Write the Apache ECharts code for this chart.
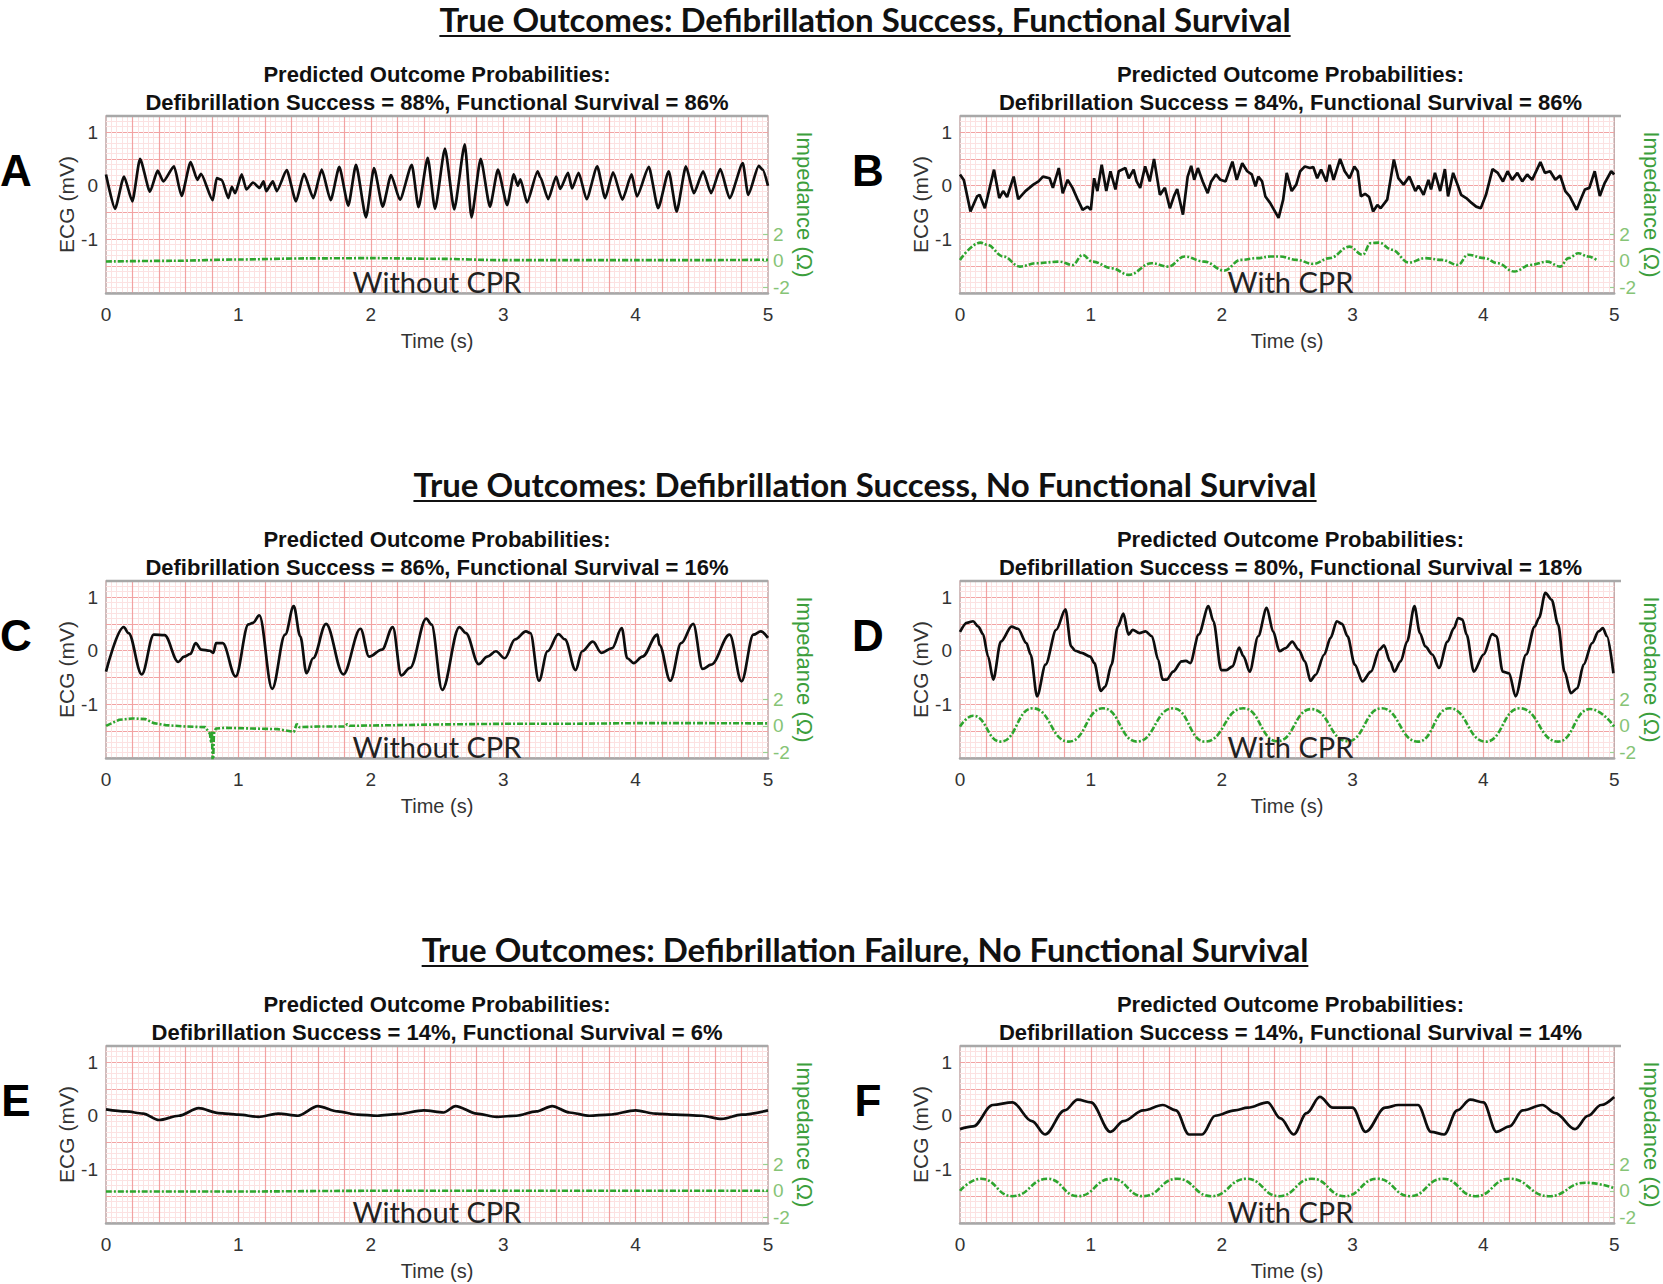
<!DOCTYPE html>
<html><head><meta charset="utf-8">
<script src="https://cdn.jsdelivr.net/npm/echarts@6/dist/echarts.min.js"></script>
<style>html,body{margin:0;padding:0;background:#fff}#c{width:1663px;height:1284px}</style>
</head><body><div id="c"></div>
<script>
// ---------------- DATA ----------------
const rowTitles = [
  'True Outcomes: Defibrillation Success, Functional Survival',
  'True Outcomes: Defibrillation Success, No Functional Survival',
  'True Outcomes: Defibrillation Failure, No Functional Survival'
];
const panelLetters = ['A', 'B', 'C', 'D', 'E', 'F'];
const predDefib = [88, 84, 86, 80, 14, 14];
const predSurv = [86, 86, 16, 18, 6, 14];
const cprLabels = ['Without CPR', 'With CPR', 'Without CPR', 'With CPR', 'Without CPR', 'With CPR'];
const timeTicks = [0, 1, 2, 3, 4, 5];
const ecgTicks = [-1, 0, 1];
const impTicks = [-2, 0, 2];

// Panel A – ECG (s, mV)
const ecgA_t = [0,.068,.136,.199,.257,.332,.39,.433,.514,.571,.639,.69,.718,.806,.836,.874,.924,.95,.975,1.025,1.06,1.11,1.16,1.19,1.21,1.26,1.29,1.365,1.435,1.495,1.566,1.629,1.697,1.762,1.83,1.888,1.964,2.024,2.09,2.153,2.22,2.31,2.36,2.43,2.485,2.56,2.63,2.71,2.76,2.83,2.90,2.96,3.03,3.08,3.11,3.13,3.18,3.26,3.28,3.34,3.40,3.43,3.49,3.52,3.57,3.63,3.71,3.77,3.83,3.90,3.97,4.01,4.10,4.17,4.25,4.31,4.38,4.44,4.51,4.57,4.64,4.71,4.81,4.85,4.93,4.96,5.0];
const ecgA_v = [.21,-.43,.17,-.29,.50,-.11,.28,.08,.36,-.19,.44,.11,.22,-.27,.14,.11,-.23,-.02,-.14,.21,-.07,.06,-.04,.08,-.10,.08,-.10,.29,-.29,.22,-.23,.30,-.27,.35,-.37,.39,-.59,.33,-.39,.20,-.26,.39,-.40,.52,-.43,.69,-.44,.77,-.59,.50,-.39,.30,-.36,.21,.0,.12,-.31,.27,.16,-.25,.17,-.06,.24,-.05,.24,-.25,.36,-.23,.25,-.26,.21,-.20,.35,-.42,.27,-.48,.36,-.14,.27,-.14,.31,-.23,.42,-.17,.37,.30,.0];
// Panel A – impedance (s, Ohm)
const impA_t = [0, .5, 1, 1.5, 2, 2.5, 3, 3.5, 4, 4.5, 5];
const impA_v = [-.05, 0, .1, .18, .2, .15, .05, .05, .05, .05, .08];

// Panel B – ECG
const ecgB_t = [0,.03,.08,.13,.15,.19,.26,.30,.33,.36,.41,.445,.50,.56,.60,.634,.685,.71,.755,.785,.823,.86,.90,.937,.975,1.0,1.025,1.05,1.083,1.118,1.15,1.188,1.213,1.264,1.29,1.327,1.35,1.377,1.415,1.45,1.483,1.528,1.566,1.604,1.636,1.66,1.704,1.74,1.767,1.79,1.818,1.855,1.893,1.92,1.956,1.99,2.03,2.082,2.115,2.157,2.195,2.23,2.258,2.28,2.309,2.334,2.37,2.435,2.47,2.497,2.535,2.57,2.60,2.636,2.675,2.70,2.73,2.76,2.80,2.825,2.855,2.905,2.94,2.977,3.014,3.04,3.064,3.096,3.127,3.157,3.19,3.215,3.265,3.316,3.35,3.39,3.434,3.48,3.505,3.543,3.58,3.60,3.63,3.67,3.706,3.73,3.769,3.807,3.83,3.869,3.91,3.945,3.98,4.02,4.07,4.11,4.15,4.185,4.22,4.26,4.297,4.335,4.373,4.436,4.47,4.51,4.55,4.587,4.626,4.66,4.713,4.743,4.776,4.81,4.851,4.89,4.927,4.977,5.0];
const ecgB_v = [.21,.10,-.48,-.20,-.17,-.42,.30,-.23,-.10,-.21,.17,-.25,-.10,.02,.08,.17,.14,-.04,.33,-.14,.11,-.04,-.26,-.45,-.39,-.45,.14,-.10,.39,-.10,.27,-.07,.27,.33,.14,.30,.08,-.04,.36,.08,.50,-.17,-.04,-.42,-.19,-.06,-.54,.17,.37,.11,.33,.08,-.14,.08,.21,.11,.08,.45,.11,.42,.27,.21,-.01,.17,.08,-.20,-.32,-.60,-.26,.24,-.10,.02,.27,.36,.33,.35,.14,.30,.08,.39,.11,.50,.27,.14,.36,.27,-.20,-.15,-.21,-.48,-.36,-.42,-.26,.49,.14,.02,.17,-.10,.0,-.17,.11,-.07,.24,-.10,.31,-.20,.24,-.01,-.17,-.23,-.32,-.39,-.42,-.17,.31,.24,.08,.27,.11,.24,.08,.21,.11,.44,.24,.27,.11,.19,-.10,-.20,-.45,-.26,-.07,-.04,.27,-.19,.05,.27,.21];
const impB_t = [0,.156,.206,.332,.458,.584,.76,.861,.937,1.012,1.163,1.289,1.465,1.591,1.717,1.868,2.019,2.145,2.271,2.372,2.447,2.573,2.699,2.825,2.976,3.077,3.139,3.202,3.303,3.429,3.555,3.681,3.807,3.882,4.008,4.109,4.235,4.36,4.486,4.587,4.65,4.726,4.801,4.864];
const impB_v = [.07,1.36,1.2,.32,-.43,-.18,-.06,-.31,.44,-.06,-.56,-1.05,-.18,-.43,.32,-.06,-.73,.07,.2,.32,.32,.07,-.23,.2,1.06,.45,1.32,1.36,.82,-.13,.2,.07,-.31,.45,.2,-.18,-.8,-.31,-.06,-.43,.2,.57,.32,.07];

// Panel C – ECG
const ecgC_t = [0,.134,.17,.27,.361,.442,.546,.59,.637,.677,.72,.784,.81,.832,.881,.979,1.076,1.11,1.158,1.255,1.353,1.418,1.467,1.515,1.564,1.662,1.792,1.922,1.987,2.084,2.166,2.23,2.296,2.419,2.458,2.539,2.669,2.718,2.815,2.88,2.945,3.011,3.09,3.172,3.205,3.27,3.335,3.417,3.466,3.547,3.596,3.677,3.742,3.823,3.895,3.937,3.986,4.051,4.165,4.18,4.262,4.344,4.435,4.506,4.571,4.71,4.80,4.89,4.945,5.0];
const ecgC_v = [-.39,.44,.33,-.44,.30,.29,-.21,-.11,-.06,.14,.02,.0,-.04,.14,.14,-.48,.49,.52,.66,-.71,.30,.83,.27,-.42,-.14,.50,-.44,.41,-.11,.02,.44,-.46,-.32,.60,.49,-.73,.44,.33,-.25,-.11,-.01,-.14,.21,.36,.33,-.56,-.01,.31,.21,-.36,-.01,.17,-.04,.05,.42,-.14,-.23,-.11,.30,.11,-.56,.14,.50,-.34,-.26,.30,-.57,.30,.36,.24];
const impC_t = [0,.1,.2,.3,.36,.45,.6,.75,.785,.795,.80,.807,.815,.83,.9,1.1,1.3,1.42,1.44,1.46,1.6,1.8,1.82,1.84,2.2,2.5,3,3.5,4,4.5,5];
const impC_v = [0,.45,.55,.5,.2,.05,-.05,-.1,-.6,-1.3,-.4,-3.5,-.6,-.2,-.15,-.2,-.25,-.45,.15,-.1,-.05,-.05,.12,0,.05,.1,.15,.15,.2,.2,.18];

// Panel D – ECG
const ecgD_t = [0,.052,.10,.14,.176,.215,.254,.312,.394,.443,.508,.54,.589,.654,.735,.806,.849,.88,.93,.995,1.027,1.076,1.11,1.158,1.206,1.249,1.288,1.32,1.37,1.418,1.467,1.515,1.548,1.58,1.629,1.694,1.727,1.76,1.824,1.899,1.937,1.996,2.035,2.084,2.133,2.166,2.214,2.279,2.344,2.393,2.442,2.49,2.539,2.588,2.636,2.679,2.718,2.784,2.832,2.88,2.92,2.962,3.017,3.076,3.141,3.206,3.24,3.287,3.32,3.368,3.417,3.473,3.515,3.556,3.61,3.661,3.726,3.775,3.807,3.84,3.872,3.927,4.002,4.067,4.10,4.148,4.197,4.246,4.327,4.392,4.425,4.474,4.522,4.571,4.62,4.669,4.718,4.766,4.831,4.88,4.913,4.945,4.994];
const ecgD_v = [.35,.52,.55,.45,.31,-.11,-.54,.17,.45,.41,.14,-.07,-.85,-.26,.39,.77,.08,.0,-.04,-.11,-.23,-.75,-.67,-.26,.45,.69,.30,.39,.33,.36,.27,-.17,-.54,-.54,-.39,-.20,-.19,-.23,.30,.83,.55,-.36,-.36,-.29,.06,-.10,-.39,.27,.80,.36,-.01,.05,.17,.02,-.20,-.56,-.45,-.07,.24,.55,.50,.27,-.26,-.57,-.39,.02,.10,-.20,-.39,-.20,.17,.83,.33,.08,-.07,-.32,.17,.42,.61,.58,.30,-.39,-.07,.31,.27,-.39,-.42,-.85,-.07,.45,.61,1.08,.95,.49,-.39,-.79,-.70,-.26,.14,.36,.42,.27,-.42];
const impD_t = [0,.1,.312,.556,.832,1.093,1.353,1.629,1.873,2.166,2.426,2.685,2.962,3.222,3.5,3.742,4.018,4.279,4.571,4.815,5.0];
const impD_v = [-.06,.75,-1.18,1.31,-1.18,1.31,-1.18,1.31,-1.18,1.31,-1.15,1.25,-1.15,1.31,-1.18,1.31,-1.18,1.31,-1.18,1.25,-.06];

// Panel E – ECG
const ecgE_t = [0,.15,.28,.4,.55,.7,.85,1.0,1.15,1.3,1.45,1.6,1.75,1.9,2.05,2.2,2.4,2.55,2.64,2.8,2.95,3.1,3.25,3.37,3.5,3.65,3.8,4.0,4.15,4.3,4.5,4.65,4.8,5.0];
const ecgE_v = [.12,.08,.04,-.08,.0,.14,.05,.02,-.02,.04,.0,.18,.08,.02,.0,.03,.1,.06,.18,.04,-.02,.0,.08,.18,.06,.0,.02,.1,.04,.02,.0,-.06,.02,.1];
const impE_t = [0, 1, 2, 3, 4, 5];
const impE_v = [-.05, -.05, 0, 0, 0, 0];

// Panel F – ECG
const ecgF_t = [0,.1,.25,.4,.55,.65,.8,.9,1.0,1.15,1.25,1.4,1.55,1.65,1.75,1.85,1.95,2.1,2.2,2.35,2.45,2.55,2.65,2.75,2.85,3.0,3.1,3.25,3.35,3.5,3.6,3.7,3.8,3.9,4.0,4.1,4.2,4.3,4.45,4.55,4.7,4.8,4.9,5.0];
const ecgF_v = [-.25,-.2,.2,.25,-.1,-.35,.1,.3,.25,-.3,-.1,.1,.2,.1,-.35,-.35,0,.1,.15,.25,-.05,-.35,.05,.35,.15,.15,-.3,.15,.2,.2,-.3,-.35,.1,.3,.25,-.3,-.2,.1,.2,.05,-.25,0,.2,.35];
const impF_t = [0,.16,.4,.67,.9,1.16,1.4,1.66,1.92,2.19,2.44,2.69,2.94,3.19,3.44,3.69,3.94,4.2,4.5,4.78,5.0];
const impF_v = [0,.9,-.4,.9,-.4,.9,-.4,.9,-.4,.9,-.4,.9,-.4,.9,-.4,.9,-.4,.9,-.4,.6,.2];

const ecgT = [ecgA_t, ecgB_t, ecgC_t, ecgD_t, ecgE_t, ecgF_t];
const ecgV = [ecgA_v, ecgB_v, ecgC_v, ecgD_v, ecgE_v, ecgF_v];
const impT = [impA_t, impB_t, impC_t, impD_t, impE_t, impF_t];
const impV = [impA_v, impB_v, impC_v, impD_v, impE_v, impF_v];

// ---------------- LAYOUT ----------------
const colLeft = [106, 960], colWidth = [662, 661];
const rowTop = [116, 581, 1046], plotH = 177;
const ECG_MIN = -2, ECG_MAX = 1.3;
const IMP_MIN = -2.4, IMP_MAX = 10.8;   // right axis aligned so that 0 Ohm = -1.4 mV
const ecgSmooth = [0.2, 0, 0.35, 0.3, 0.3, 0.35];
const impSmooth = [0.3, 0.4, 0, 0.5, 0.3, 0.5];

const SANS = '"Liberation Sans", Arial, sans-serif';
const CAL = 'Lato, "Open Sans", sans-serif';

const chart = echarts.init(document.getElementById('c'), null, {renderer: 'svg', width: 1663, height: 1284});

const grids = [], xAxes = [], yAxes = [], series = [], graphics = [];
const mctx = document.createElement('canvas').getContext('2d');

for (let p = 0; p < 6; p++) {
  const r = Math.floor(p / 2), c = p % 2;
  const left = colLeft[c], width = colWidth[c], top = rowTop[r];
  grids.push({left, top, width, height: plotH, show: true, backgroundColor: '#fff',
    borderColor: '#c4a8a8', borderWidth: 1.5, containLabel: false});
  xAxes.push({type: 'value', gridIndex: p, min: 0, max: 5, interval: 0.2,
    axisLine: {show: true, onZero: false, lineStyle: {color: '#a8a8a8', width: 2.5}},
    axisTick: {show: false},
    axisLabel: {customValues: timeTicks, color: '#333', fontFamily: SANS, fontSize: 19, margin: 12},
    splitLine: {show: true, showMinLine: false, showMaxLine: false, lineStyle: {color: '#f2a3a3', width: 1.2}},
    minorTick: {show: false, splitNumber: 5},
    minorSplitLine: {show: true, lineStyle: {color: '#fce2e2', width: 1}},
    name: 'Time (s)', nameLocation: 'middle', nameGap: 38,
    nameTextStyle: {color: '#333', fontFamily: SANS, fontSize: 20}, z: 1});
  yAxes.push({type: 'value', gridIndex: p, min: ECG_MIN, max: ECG_MAX, interval: 0.5, position: 'left',
    axisLine: {show: false}, axisTick: {show: false},
    axisLabel: {customValues: ecgTicks, color: '#333', fontFamily: SANS, fontSize: 19, margin: 8},
    splitLine: {show: true, showMinLine: false, showMaxLine: false, lineStyle: {color: '#f2a3a3', width: 1.2}},
    minorTick: {show: false, splitNumber: 5},
    minorSplitLine: {show: true, lineStyle: {color: '#fce2e2', width: 1}},
    name: 'ECG (mV)', nameLocation: 'middle', nameRotate: 90, nameGap: 21,
    nameTextStyle: {color: '#333', fontFamily: SANS, fontSize: 21}});
  yAxes.push({type: 'value', gridIndex: p, min: IMP_MIN, max: IMP_MAX, position: 'right',
    axisLine: {show: false},
    axisTick: {show: true, inside: true, length: 5, customValues: impTicks, lineStyle: {color: '#9ccf90', width: 1.2}},
    axisLabel: {customValues: impTicks, color: '#86c476', fontFamily: SANS, fontSize: 19, margin: 5},
    splitLine: {show: false},
    name: 'Impedance (\u03A9)', nameLocation: 'middle', nameRotate: -90, nameGap: 25,
    nameTextStyle: {color: '#3c9e3c', fontFamily: SANS, fontSize: 22}});

  series.push({type: 'line', xAxisIndex: p, yAxisIndex: 2 * p + 1, showSymbol: false, smooth: impSmooth[p],
    smoothMonotone: 'x', animation: false, z: 3,
    lineStyle: {color: '#2ea52e', width: 2.6, type: [6, 2, 2, 2]},
    data: impT[p].map((t, i) => [t, impV[p][i]])});
  series.push({type: 'line', xAxisIndex: p, yAxisIndex: 2 * p, showSymbol: false, smooth: ecgSmooth[p],
    smoothMonotone: 'x', animation: false, z: 4,
    lineStyle: {color: '#0d0d0d', width: 2.7},
    data: ecgT[p].map((t, i) => [t, ecgV[p][i]])});

  const cx = left + width / 2;
  graphics.push({type: 'text', x: cx, y: top - 42, z: 10,
    style: {text: 'Predicted Outcome Probabilities:', font: 'bold 22px ' + SANS, fill: '#111', textAlign: 'center', textVerticalAlign: 'middle'}});
  graphics.push({type: 'text', x: cx, y: top - 14, z: 10,
    style: {text: 'Defibrillation Success = ' + predDefib[p] + '%, Functional Survival = ' + predSurv[p] + '%',
      font: 'bold 22px ' + SANS, fill: '#111', textAlign: 'center', textVerticalAlign: 'middle'}});
  graphics.push({type: 'text', x: cx, y: top + 165, z: 10,
    style: {text: cprLabels[p], font: '29px ' + CAL, fill: '#222', textAlign: 'center', textVerticalAlign: 'middle'}});
  graphics.push({type: 'text', x: c === 0 ? 16 : 868, y: top + 54, z: 10,
    style: {text: panelLetters[p], font: 'bold 44px ' + SANS, fill: '#000', textAlign: 'center', textVerticalAlign: 'middle'}});
  // gray top frame of each plot
  graphics.push({type: 'line', z: 5, shape: {x1: left, y1: top, x2: left + width, y2: top},
    style: {stroke: '#a8a8a8', lineWidth: 2.5}});
}

for (let r = 0; r < 3; r++) {
  const font = 'bold 33px ' + CAL;
  mctx.font = font;
  const w = mctx.measureText(rowTitles[r]).width;
  const cy = 19 + 465 * r;
  graphics.push({type: 'text', x: 865, y: cy, z: 10,
    style: {text: rowTitles[r], font, fill: '#111', textAlign: 'center', textVerticalAlign: 'middle'}});
  graphics.push({type: 'line', z: 10, shape: {x1: 865 - w / 2, y1: cy + 17, x2: 865 + w / 2, y2: cy + 17},
    style: {stroke: '#111', lineWidth: 2}});
}

chart.setOption({
  backgroundColor: '#fff', animation: false,
  grid: grids, xAxis: xAxes, yAxis: yAxes, series, graphic: graphics
});
</script></body></html>
